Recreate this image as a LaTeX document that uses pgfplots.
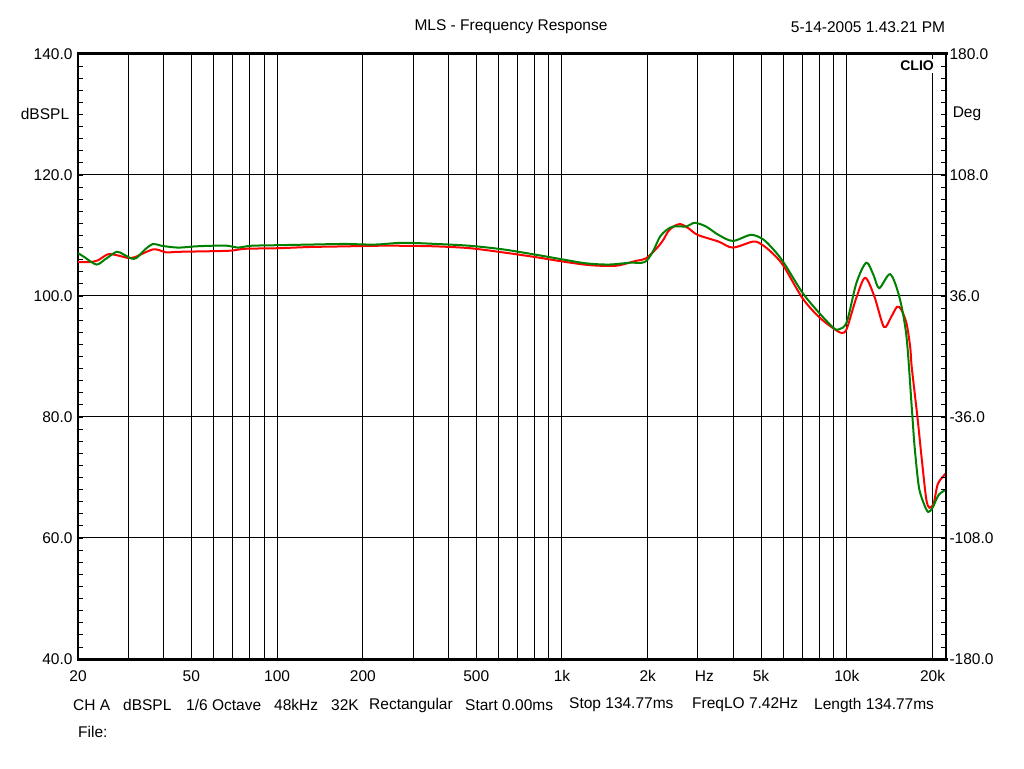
\documentclass[border=0pt]{standalone}
\usepackage{fontspec}
\setmainfont{Liberation Sans}
\usepackage{pgfplots}
\pgfplotsset{compat=1.18}
\definecolor{cred}{RGB}{255,0,0}
\definecolor{cgreen}{RGB}{0,128,0}
\pgfplotstableread{
f db
20 105.6
22 105.6
23.5 105.9
25.5 106.9
27.6 106.7
29.9 106.3
31.6 106.4
34.4 107.2
36.7 107.7
38.5 107.6
40.8 107.2
44.9 107.3
58.6 107.4
69.1 107.5
77 107.8
101 107.9
131 108.1
172 108.2
220 108.3
277 108.3
362 108.2
475 107.9
622 107.2
815 106.4
1005 105.7
1252 105.1
1546 105.0
1816 105.8
1970 106.2
2152 107.9
2270 109.3
2354 110.6
2450 111.4
2594 111.9
2780 111.2
2995 110.1
3545 109.0
3980 108.0
4700 109.0
5070 108.4
5500 107.0
5990 105.0
7000 99.6
8000 96.5
9000 94.6
9600 93.9
10000 94.6
10800 99.7
11600 103.0
12500 99.9
13500 94.9
14300 96.5
15000 98.2
15500 97.8
16200 95.5
16700 91.5
16900 88.3
17700 80.0
18300 73.4
19000 66.5
19500 65.0
20200 65.8
20900 69.0
22300 70.7
}\redtab
\pgfplotstableread{
f db
20 107.1
21.1 106.4
23.2 105.2
24.8 106.0
27.3 107.3
28.8 106.9
30.8 106.2
32.1 106.3
34.4 107.7
36.7 108.6
39.3 108.3
44.9 108.0
51.5 108.2
58.6 108.3
67.2 108.3
72.8 108.0
81 108.3
101 108.4
131 108.5
172 108.6
220 108.5
277 108.8
362 108.6
475 108.3
622 107.7
815 106.8
990 106.1
1214 105.4
1465 105.2
1725 105.5
1950 105.6
2083 107.3
2208 109.8
2330 110.9
2463 111.5
2740 111.5
2920 112.1
3200 111.5
3545 110.1
3980 109.1
4600 110.1
5070 109.4
5500 107.8
5990 105.6
7000 100.5
8000 97.2
9000 94.7
9400 94.5
10000 95.7
10800 102.1
11700 105.5
12400 103.5
13000 101.3
14200 103.6
15300 99.8
16200 93.3
16900 81.7
17300 75.1
17900 68.5
18600 65.8
19300 64.3
20000 65.0
21000 67.1
22300 68.0
}\greentab
\begin{document}
\begin{tikzpicture}[x=1pt,y=1pt,font=\fontsize{15.5}{18}\selectfont]
\useasboundingbox (0,0) rectangle (1024,768);
\begin{axis}[
  at={(78pt,109pt)}, anchor=south west,
  width=868pt, height=605pt, scale only axis,
  xmode=log, xmin=20, xmax=22300, ymin=40, ymax=140,
  axis line style={line width=1.2pt},
  xtick={20,50,100,200,500,1000,2000,3162,5000,10000,20000},
  xticklabels={20,50,100,200,500,1k,2k,Hz,5k,10k,20k},
  major x tick style={draw=none},
  minor xtick={20,30,40,50,60,70,80,90,100,200,300,400,500,600,700,800,900,1000,2000,3000,4000,5000,6000,7000,8000,9000,10000,20000},
  minor x tick style={draw=none},
  xminorgrids=true,
  minor x grid style={black, line width=1pt},
  ytick={40,60,80,100,120,140},
  yticklabels={40.0,60.0,80.0,100.0,120.0,140.0},
  minor y tick num=9,
  ymajorgrids=true,
  major y grid style={black, line width=1pt},
  tick align=inside,
  major tick length=5pt, minor tick length=5pt,
  y tick style={black, line width=0.8pt},
  ytick pos=left,
  xticklabel style={yshift=-8pt},
  yticklabel style={xshift=-2pt},
  clip=true,
]
\addplot[cred, line width=2pt, smooth] table[x=f,y=db] {\redtab};
\addplot[cgreen, line width=2pt, smooth] table[x=f,y=db] {\greentab};
\end{axis}
\begin{axis}[
  at={(78pt,109pt)}, anchor=south west,
  width=868pt, height=605pt, scale only axis,
  xmin=0, xmax=1, ymin=-180, ymax=180,
  axis x line=none, axis y line*=right,
  axis line style={line width=1.2pt},
  ytick={-180,-108,-36,36,108,180},
  yticklabels={-180.0,-108.0,-36.0,36.0,108.0,180.0},
  minor y tick num=9,
  tick align=inside,
  major tick length=5pt, minor tick length=5pt,
  y tick style={black, line width=0.8pt},
  yticklabel style={xshift=0pt},
]
\end{axis}
\node[fill=white, inner sep=2pt, anchor=east, font=\fontsize{14}{16}\selectfont\bfseries] at (936,702) {CLIO};
\draw[line width=3pt] (76.5,714) -- (947.5,714);
\draw[line width=3pt] (76.5,109) -- (947.5,109);
\node at (511,741) {MLS - Frequency Response};
\node at (868,741) {5-14-2005 1.43.21 PM};
\node at (45,654) {dBSPL};
\node at (967,654) {Deg};
\node[anchor=west, inner sep=0pt] at (73,63) {CH A};
\node[anchor=west, inner sep=0pt] at (123,63) {dBSPL};
\node[anchor=west, inner sep=0pt] at (186,63) {1/6 Octave};
\node[anchor=west, inner sep=0pt] at (274,63) {48kHz};
\node[anchor=west, inner sep=0pt] at (331,63) {32K};
\node[anchor=west, inner sep=0pt] at (369,63) {Rectangular};
\node[anchor=west, inner sep=0pt] at (465,63) {Start 0.00ms};
\node[anchor=west, inner sep=0pt] at (569,63) {Stop 134.77ms};
\node[anchor=west, inner sep=0pt] at (692,63) {FreqLO 7.42Hz};
\node[anchor=west, inner sep=0pt] at (814,63) {Length 134.77ms};
\node[anchor=west, inner sep=0pt] at (78,36) {File:};
\end{tikzpicture}
\end{document}
